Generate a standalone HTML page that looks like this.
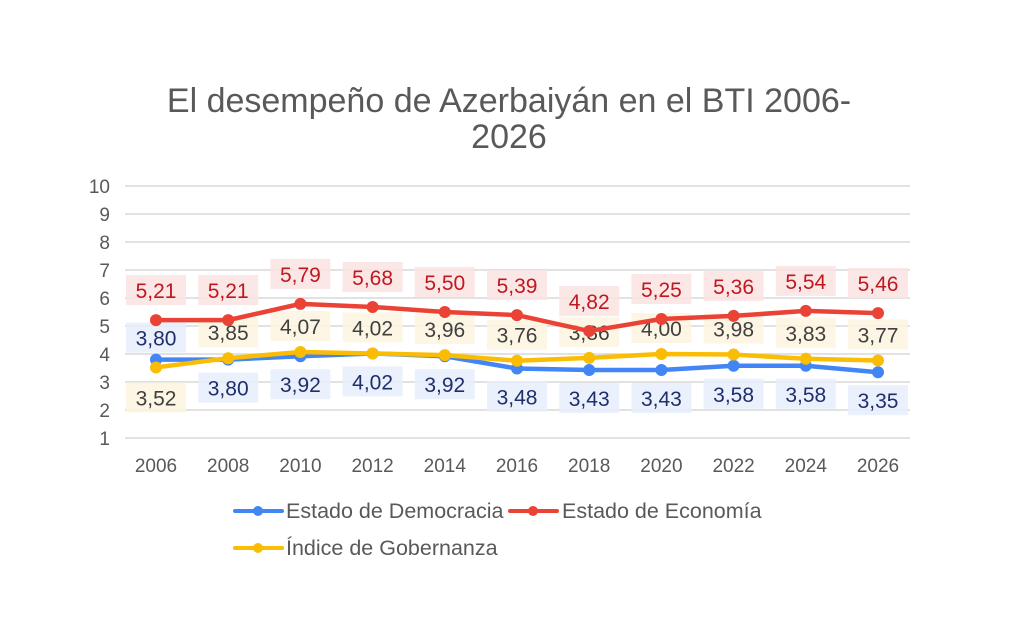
<!DOCTYPE html>
<html><head><meta charset="utf-8"><style>body{margin:0;background:#fff}svg{display:block}text{font-family:"Liberation Sans",Arial,sans-serif}</style></head><body>
<svg width="1010" height="640" viewBox="0 0 1010 640">
<text x="509" y="112" font-size="34" fill="#595959" text-anchor="middle">El desempeño de Azerbaiyán en el BTI 2006-</text>
<text x="509" y="148" font-size="34" fill="#595959" text-anchor="middle">2026</text>
<g id="grid" stroke="#d9d9d9" stroke-width="1.5"></g>
<g id="yl" font-size="19" fill="#595959" text-anchor="end"></g>
<g id="xl" font-size="19" fill="#595959" text-anchor="middle"></g>
<g id="labels" font-size="21" text-anchor="middle"></g>
<g id="lines"></g>
<g font-size="21.5" fill="#595959">
<line x1="235" y1="511" x2="282" y2="511" stroke="#4285f4" stroke-width="4" stroke-linecap="round"/><circle cx="258" cy="511" r="5" fill="#4285f4"/>
<text x="286" y="518">Estado de Democracia</text>
<line x1="510" y1="511" x2="557" y2="511" stroke="#ea4335" stroke-width="4" stroke-linecap="round"/><circle cx="533" cy="511" r="5" fill="#ea4335"/>
<text x="562" y="518">Estado de Economía</text>
<line x1="235" y1="548" x2="282" y2="548" stroke="#fbbc04" stroke-width="4" stroke-linecap="round"/><circle cx="258" cy="548" r="5" fill="#fbbc04"/>
<text x="286" y="555">Índice de Gobernanza</text>
</g>
</svg>
<script>
const ns="http://www.w3.org/2000/svg";
function el(p,t,a,txt){const e=document.createElementNS(ns,t);for(const k in a)e.setAttribute(k,a[k]);if(txt)e.textContent=txt;document.getElementById(p).appendChild(e);return e;}
const Y=v=>438-(v-1)*28, X=i=>156+i*72.2;
for(let v=1;v<=10;v++){el("grid","line",{x1:125,x2:910,y1:Y(v),y2:Y(v)});el("yl","text",{x:110,y:Y(v)+7},String(v));}
const yrs=[2006,2008,2010,2012,2014,2016,2018,2020,2022,2024,2026];
yrs.forEach((y,i)=>el("xl","text",{x:X(i),y:472},String(y)));
const dem=[3.80,3.80,3.92,4.02,3.92,3.48,3.43,3.43,3.58,3.58,3.35];
const eco=[5.21,5.21,5.79,5.68,5.50,5.39,4.82,5.25,5.36,5.54,5.46];
const gov=[3.52,3.85,4.07,4.02,3.96,3.76,3.86,4.00,3.98,3.83,3.77];
function series(d,c){el("lines","polyline",{points:d.map((v,i)=>X(i)+","+Y(v)).join(" "),fill:"none",stroke:c,"stroke-width":4.5,"stroke-linejoin":"round"});d.forEach((v,i)=>el("lines","circle",{cx:X(i),cy:Y(v),r:6,fill:c}));}
series(dem,"#4285f4");series(gov,"#fbbc04");series(eco,"#ea4335");
function lab(d,bg,fg,off){d.forEach((v,i)=>{const o=typeof off=="function"?off(i):off;const cy=Y(v)+o;el("labels","rect",{x:X(i)-30,y:cy-15,width:60,height:30,fill:bg,opacity:0.85});el("labels","text",{x:X(i),y:cy+8,fill:fg},v.toFixed(2).replace(".",","));});}
lab(eco,"#fbe3e3","#c0181f",-30);
lab(dem,"#e6edfb","#1f2f6b",i=>i==0?-22:28);
lab(gov,"#fdf4df","#404040",i=>i==0?30:-26);
</script>
</body></html>
